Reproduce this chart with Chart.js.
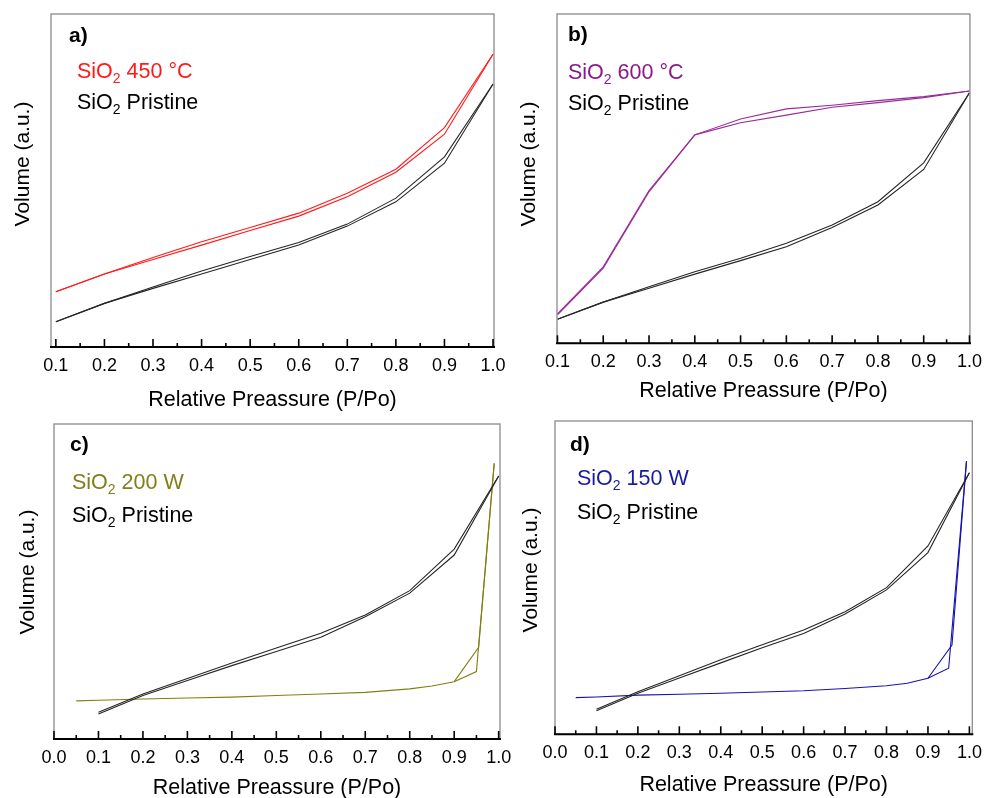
<!DOCTYPE html>
<html><head><meta charset="utf-8">
<script src="https://cdn.jsdelivr.net/npm/chart.js@4.4.1/dist/chart.umd.min.js"></script>
<style>
html,body{margin:0;padding:0;background:#fff;}
body{width:990px;height:798px;overflow:hidden;position:relative;font-family:"Liberation Sans",Arial,sans-serif;}
canvas{position:absolute;}
.txt{position:absolute;white-space:nowrap;line-height:1;}
.lab{font-weight:bold;font-size:21px;color:#000;}
.leg{font-size:21.5px;}
.leg span.s{font-size:14px;position:relative;top:5px;}
.ytitle{position:absolute;white-space:nowrap;font-size:21px;line-height:1;color:#000;transform:translate(-50%,-50%) rotate(-90deg);}
</style></head><body>
<script>
// ---------- data (Volume in arbitrary units, 0-100 of plot height) ----------
const pressure = [0.1,0.2,0.3,0.4,0.5,0.6,0.7,0.8,0.9,1.0];
const xTicksAB = [0.1,0.2,0.3,0.4,0.5,0.6,0.7,0.8,0.9,1.0];
const xTicksCD = [0.0,0.1,0.2,0.3,0.4,0.5,0.6,0.7,0.8,0.9,1.0];

// a) SiO2 450 °C vs pristine
const pristineA_ads = [7.6,13.1,17.6,21.9,26.3,30.6,36.3,43.6,55.2,79.0];
const pristineA_des = [7.6,13.1,18.0,22.8,27.2,31.4,36.9,44.7,57.1,79.0];
const s450_ads = [16.6,21.9,26.3,30.6,35.0,39.3,45.1,52.5,63.9,87.9];
const s450_des = [16.6,21.9,26.9,31.6,35.9,40.2,46.2,53.4,65.9,87.9];

// b) SiO2 600 °C vs pristine
const pristineB_ads = [7.3,12.5,16.7,21.0,25.1,29.3,35.2,42.0,52.8,76.1];
const pristineB_des = [7.3,12.5,17.2,21.7,25.8,30.4,35.9,43.0,54.8,76.1];
const s600_ads = [8.6,22.8,46.0,63.3,67.0,69.3,71.7,73.1,74.6,76.6];
const s600_des = [8.9,23.2,46.4,63.3,68.1,71.2,72.3,73.7,74.9,76.6];

// c) SiO2 200 W vs pristine
const pristineC_ads = [7.9,13.8,18.6,23.3,27.8,32.3,38.8,46.3,58.4,83.5];
const pristineC_des = [8.5,14.3,19.2,24.1,28.9,33.6,39.4,47.1,60.3,83.5];
const p200_ads = [0.05,0.1,0.2,0.3,0.4,0.5,0.6,0.7,0.8,0.85,0.9,0.95,0.99];
const s200_ads = [12.1,12.3,12.7,13.0,13.3,13.8,14.3,14.8,15.9,16.8,18.2,21.4,87.5];
const p200_des = [0.99,0.955,0.9];
const s200_des = [87.5,29.1,18.2];

// d) SiO2 150 W vs pristine
const pristineD_ads = [7.5,13.1,18.0,22.8,27.6,32.2,38.4,46.1,58.0,83.5];
const pristineD_des = [8.0,13.6,18.7,23.8,28.6,33.3,39.1,46.8,60.1,83.5];
const p150_ads = [0.05,0.1,0.2,0.3,0.4,0.5,0.6,0.7,0.8,0.85,0.9,0.95,0.993];
const s150_ads = [11.7,11.9,12.5,12.8,13.1,13.5,13.9,14.6,15.5,16.3,17.9,21.1,87.2];
const p150_des = [0.993,0.958,0.9];
const s150_des = [87.2,28.5,17.9];

const xTitle = 'Relative Preassure (P/Po)';
const yTitle = 'Volume (a.u.)';

// ---------- helpers ----------
const pts = (xs, ys) => xs.map((x, i) => ({x, y: ys[i]}));
const line = (xs, ys, color) => ({data: pts(xs, ys), showLine: true, borderColor: color, borderWidth: 1.1,
  pointRadius: 0, fill: false, tension: 0});

const framePlugin = {
  id: 'frame',
  afterDatasetsDraw(chart) {
    const {ctx, chartArea: a, scales: {x}} = chart;
    ctx.save();
    ctx.strokeStyle = '#8a8a8a'; ctx.lineWidth = 1.3;
    ctx.strokeRect(a.left, a.top, a.right - a.left, a.bottom - a.top);
    ctx.strokeStyle = '#000'; ctx.lineWidth = 2;
    ctx.beginPath(); ctx.moveTo(a.left - 1, a.bottom); ctx.lineTo(a.right + 1, a.bottom); ctx.stroke();
    ctx.lineWidth = 1.6;
    const k0 = Math.ceil(x.min / 0.05 - 1e-6), k1 = Math.floor(x.max / 0.05 + 1e-6);
    for (let k = k0; k <= k1; k++) {
      const px = x.getPixelForValue(k * 0.05);
      const len = (k % 2 === 0) ? 8 : 4;
      ctx.beginPath(); ctx.moveTo(px, a.bottom); ctx.lineTo(px, a.bottom - len); ctx.stroke();
    }
    ctx.restore();
  }
};

function makePanel(cfg) {
  const c = document.createElement('canvas');
  c.width = cfg.box.w; c.height = cfg.box.h;
  c.style.left = cfg.box.x + 'px'; c.style.top = cfg.box.y + 'px';
  c.style.width = cfg.box.w + 'px'; c.style.height = cfg.box.h + 'px';
  document.body.appendChild(c);
  new Chart(c, {
    type: 'scatter',
    data: {datasets: cfg.datasets},
    options: {
      responsive: false, animation: false, devicePixelRatio: 1,
      layout: {padding: cfg.pad},
      plugins: {legend: {display: false}, tooltip: {enabled: false}},
      scales: {
        x: {
          type: 'linear', min: cfg.xmin, max: cfg.xmax,
          afterBuildTicks: s => { s.ticks = cfg.ticks.map(v => ({value: v})); },
          afterFit: s => { s.height = cfg.axisH; },
          grid: {display: false, drawTicks: false},
          border: {display: false},
          ticks: {autoSkip: false, maxRotation: 0, padding: 8, color: '#000',
            font: {family: '"Liberation Sans", Arial, sans-serif', size: 18},
            callback: v => Number(v).toFixed(1)},
          title: {display: true, text: xTitle, color: '#000',
            font: {family: '"Liberation Sans", Arial, sans-serif', size: 21.5},
            padding: {top: 0, bottom: cfg.titlePad}}
        },
        y: {type: 'linear', min: 0, max: 100, display: false}
      }
    },
    plugins: [framePlugin]
  });
}

function addText(html, cls, x, capY, size, color) {
  const d = document.createElement('div');
  d.className = 'txt ' + cls;
  d.innerHTML = html;
  d.style.left = x + 'px';
  d.style.top = (capY - 0.49 * size) + 'px';
  if (color) d.style.color = color;
  document.body.appendChild(d);
}
function addYTitle(cx, cy) {
  const d = document.createElement('div');
  d.className = 'ytitle'; d.textContent = yTitle;
  d.style.left = cx + 'px'; d.style.top = cy + 'px';
  document.body.appendChild(d);
}

const BLACK = '#262626';
makePanel({box: {x: 20, y: 0, w: 505, h: 415}, pad: {left: 31, right: 31, top: 14, bottom: 0}, axisH: 68, titlePad: 2,
  xmin: 0.09, xmax: 1.002, ticks: xTicksAB,
  datasets: [line(pressure, pristineA_ads, BLACK), line(pressure, pristineA_des, BLACK),
             line(pressure, s450_ads, '#ff1a1a'), line(pressure, s450_des, '#ff1a1a')]});
makePanel({box: {x: 527, y: 0, w: 463, h: 406}, pad: {left: 30, right: 13, top: 14, bottom: 0}, axisH: 62.7, titlePad: 2,
  xmin: 0.099, xmax: 1.001, ticks: xTicksAB,
  datasets: [line(pressure, pristineB_ads, BLACK), line(pressure, pristineB_des, BLACK),
             line(pressure, s600_ads, '#9a2a9a'), line(pressure, s600_des, '#9a2a9a')]});
makePanel({box: {x: 20, y: 410, w: 510, h: 400}, pad: {left: 34, right: 30, top: 14, bottom: 0}, axisH: 71, titlePad: 9,
  xmin: 0, xmax: 1.003, ticks: xTicksCD,
  datasets: [line(pressure, pristineC_ads, BLACK), line(pressure, pristineC_des, BLACK),
             line(p200_ads, s200_ads, '#808010'), line(p200_des, s200_des, '#808010')]});
makePanel({box: {x: 525, y: 407, w: 465, h: 403}, pad: {left: 30, right: 14, top: 14, bottom: 0}, axisH: 75.7, titlePad: 12,
  xmin: 0, xmax: 1.007, ticks: xTicksCD,
  datasets: [line(pressure, pristineD_ads, BLACK), line(pressure, pristineD_des, BLACK),
             line(p150_ads, s150_ads, '#1414b0'), line(p150_des, s150_des, '#1414b0')]});

// panel labels
addText('a)', 'lab', 69, 34, 21);
addText('b)', 'lab', 568, 33, 21);
addText('c)', 'lab', 70, 443, 21);
addText('d)', 'lab', 570, 443, 21);
// legends
addText('SiO<span class="s">2</span> 450 °C', 'leg', 77, 72, 21.5, '#ff1a1a');
addText('SiO<span class="s">2</span> Pristine', 'leg', 77, 102.5, 21.5, '#000');
addText('SiO<span class="s">2</span> 600 °C', 'leg', 568, 72.5, 21.5, '#8b1a89');
addText('SiO<span class="s">2</span> Pristine', 'leg', 568, 104, 21.5, '#000');
addText('SiO<span class="s">2</span> 200 W', 'leg', 72, 482.5, 21.5, '#80801a');
addText('SiO<span class="s">2</span> Pristine', 'leg', 72, 516, 21.5, '#000');
addText('SiO<span class="s">2</span> 150 W', 'leg', 577, 479, 21.5, '#1a1aa0');
addText('SiO<span class="s">2</span> Pristine', 'leg', 577, 512.5, 21.5, '#000');
// y titles
addYTitle(21, 164);
addYTitle(527, 164);
addYTitle(26, 572);
addYTitle(529, 570);
</script>
</body></html>
